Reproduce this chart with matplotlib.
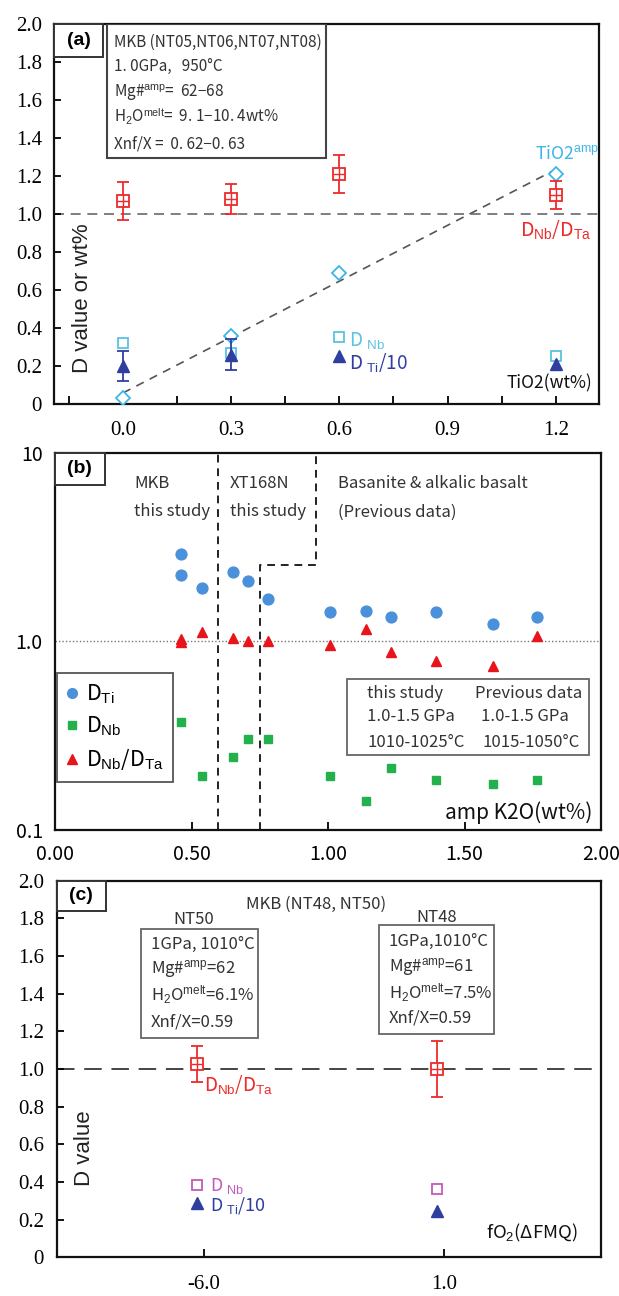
import numpy as np
import matplotlib
matplotlib.use('Agg')
import matplotlib.pyplot as plt
from matplotlib import font_manager
from matplotlib.patches import Rectangle
from matplotlib.lines import Line2D
from matplotlib.ticker import MultipleLocator, FixedLocator, NullLocator

# ---------------- data: panel (a) ----------------
a_x = [0.0, 0.3, 0.6, 1.2]
a_nbta = [1.07, 1.08, 1.21, 1.10]
a_nbta_err = [0.10, 0.08, 0.10, 0.075]
a_tio2 = [0.03, 0.36, 0.69, 1.21]
a_dnb = [0.32, 0.27, 0.35, 0.25]
a_dti10 = [0.20, 0.26, 0.25, 0.21]
a_dti10_err = [0.08, 0.08, 0.0, 0.0]
a_xticks = [0.0, 0.3, 0.6, 0.9, 1.2]
a_xticklabels = ['0.0', '0.3', '0.6', '0.9', '1.2']
a_yticks = [0.0, 0.2, 0.4, 0.6, 0.8, 1.0, 1.2, 1.4, 1.6, 1.8, 2.0]
a_yticklabels = ['0', '0.2', '0.4', '0.6', '0.8', '1.0', '1.2', '1.4', '1.6', '1.8', '2.0']

# ---------------- data: panel (b) ----------------
b_ti_x = [0.461, 0.461, 0.539, 0.650, 0.708, 0.780, 1.008, 1.139, 1.229, 1.397, 1.606, 1.767]
b_ti = [2.91, 2.26, 1.92, 2.33, 2.08, 1.685, 1.44, 1.455, 1.35, 1.44, 1.24, 1.35]
b_nbta_x = [0.461, 0.461, 0.539, 0.650, 0.708, 0.780, 1.008, 1.139, 1.229, 1.397, 1.606, 1.767]
b_nbta = [1.03, 0.99, 1.116, 1.04, 1.01, 1.01, 0.96, 1.17, 0.878, 0.79, 0.743, 1.063]
b_nb_x = [0.461, 0.539, 0.650, 0.708, 0.780, 1.008, 1.139, 1.229, 1.397, 1.606, 1.767]
b_nb = [0.376, 0.194, 0.245, 0.305, 0.305, 0.194, 0.143, 0.214, 0.184, 0.175, 0.184]
b_xticks = [0.0, 0.5, 1.0, 1.5, 2.0]
b_xticklabels = ['0.00', '0.50', '1.00', '1.50', '2.00']
b_yticks = [0.1, 1.0, 10.0]
b_yticklabels = ['0.1', '1.0', '10']

# ---------------- data: panel (c) ----------------
c_x = [-6.2, 0.8]
c_nbta = [1.025, 1.00]
c_nbta_err = [0.097, 0.15]
c_dnb = [0.383, 0.364]
c_dti10 = [0.29, 0.243]
c_xticks = [-6.0, 1.0]
c_xticklabels = ['-6.0', '1.0']
c_yticks = a_yticks
c_yticklabels = a_yticklabels

# ---------------- fonts ----------------
_names = {f.name for f in font_manager.fontManager.ttflist}
if 'Liberation Sans Narrow' in _names:
    NARROW = ['Liberation Sans Narrow', 'DejaVu Sans']
    NMATH = 'Liberation Sans Narrow'
    K = 1.0
else:
    NARROW = ['Noto Sans CJK SC', 'DejaVu Sans']
    NMATH = 'Liberation Sans'
    K = 0.86

plt.rcParams['mathtext.fontset'] = 'custom'
plt.rcParams['mathtext.rm'] = NMATH
plt.rcParams['mathtext.it'] = NMATH + ':italic'
plt.rcParams['mathtext.bf'] = NMATH + ':bold'
plt.rcParams['mathtext.sf'] = NMATH

SERIF = ['Liberation Serif', 'DejaVu Serif']
SANS = ['Noto Sans CJK SC', 'DejaVu Sans']
ARIAL = ['Liberation Sans', 'DejaVu Sans']

RED = '#EE2A2A'
C_TIO2 = '#3DB5EA'
C_DNB = '#5CC3E0'
C_DBLUE = '#2F3F9F'
B_BLUE = '#4A90DA'
B_GREEN = '#22B14C'
B_RED = '#E8131B'
C_MAG = '#C45AB8'
BOXC = '#444444'
TXT = '#333333'

fig = plt.figure(figsize=(6.19, 12.96), dpi=100)
ax_a = fig.add_axes([0.0880, 0.6883, 0.8796, 0.2932])
ax_b = fig.add_axes([0.0893, 0.3596, 0.8816, 0.2909])
ax_c = fig.add_axes([0.0913, 0.0299, 0.8796, 0.2906])

for ax in (ax_a, ax_b, ax_c):
    for s in ax.spines.values():
        s.set_linewidth(1.6)
        s.set_color('#111111')


def tag_box(ax, label, w, h):
    ax.add_patch(Rectangle((0, 1 - h), w, h, transform=ax.transAxes, fill=True,
                           facecolor='white', edgecolor='#333333', lw=1.4, zorder=5,
                           clip_on=False))
    ax.text(w / 2, 1 - h / 2, label, transform=ax.transAxes, ha='center', va='center',
            fontsize=14, fontweight='bold', family=ARIAL, zorder=6)


def red_square(ax, x, y, err, ms):
    ax.errorbar(x, y, yerr=err, fmt='none', ecolor=RED, elinewidth=1.3, capsize=4,
                capthick=1.3, zorder=3)
    ax.plot(x, y, ls='none', marker='s', ms=ms, mfc='white', mec=RED, mew=1.3, zorder=4)
    ax.plot(x, y, ls='none', marker='+', ms=ms, mec=RED, mew=1.0, zorder=4)


def ntext(ax, x, y, s, size, **kw):
    kw.setdefault('ha', 'left')
    kw.setdefault('va', 'center')
    kw.setdefault('color', TXT)
    return ax.text(x, y, s, transform=ax.transAxes, fontsize=size * K, family=NARROW, **kw)


# ================= panel (a) =================
ax = ax_a
ax.set_xlim(-0.19, 1.32)
ax.set_ylim(0, 2.0)
ax.axhline(1.0, color='#6a6a6a', ls=(0, (6, 4)), lw=1.2, zorder=1)
coef = np.polyfit(a_x, a_tio2, 1)
xl = np.array([min(a_x), max(a_x)])
ax.plot(xl, np.polyval(coef, xl), color='#555555', ls=(0, (5, 4)), lw=1.2, zorder=1)
ax.plot(a_x, a_tio2, ls='none', marker='D', ms=7, mfc='white', mec=C_TIO2, mew=1.3, zorder=3)
ax.plot(a_x, a_dnb, ls='none', marker='s', ms=7, mfc='white', mec=C_DNB, mew=1.3, zorder=3)
ex = [x for x, e in zip(a_x, a_dti10_err) if e > 0]
ey = [y for y, e in zip(a_dti10, a_dti10_err) if e > 0]
ee = [e for e in a_dti10_err if e > 0]
ax.errorbar(ex, ey, yerr=ee, fmt='none', ecolor=C_DBLUE, elinewidth=1.3, capsize=4,
            capthick=1.3, zorder=3)
ax.plot(a_x, a_dti10, ls='none', marker='^', ms=8, color=C_DBLUE, zorder=4)
red_square(ax, a_x, a_nbta, a_nbta_err, 8)

ax.set_xticks(a_xticks)
ax.set_xticklabels(a_xticklabels, family=SERIF, fontsize=15)
ax.xaxis.set_minor_locator(MultipleLocator(0.15))
ax.set_yticks(a_yticks)
ax.set_yticklabels(a_yticklabels, family=SERIF, fontsize=15)
ax.tick_params(axis='both', which='both', direction='in', width=1.3)
ax.tick_params(axis='x', which='both', length=6, pad=12)
ax.tick_params(axis='y', length=5, pad=9)

tag_box(ax, '(a)', 0.0898, 0.087)
ax.add_patch(Rectangle((0.0964, 0.647), 0.4022, 0.353, transform=ax.transAxes,
                       facecolor='white', edgecolor=BOXC, lw=1.5, zorder=5))
a_lines = ['MKB (NT05,NT06,NT07,NT08)', '1. 0GPa,   950\u00b0C',
           'Mg#$^{\\rm amp}$=  62\u221268', 'H$_2$O$^{\\rm melt}$=  9. 1\u221210. 4wt%',
           'Xnf/X =  0. 62\u22120. 63']
for t, fy in zip(a_lines, [0.951, 0.888, 0.822, 0.755, 0.684]):
    ntext(ax, 0.110, fy, t, 12.8, zorder=6)

ax.text(0.052, 0.279, 'D value or wt%', transform=ax.transAxes, rotation=90,
        ha='center', va='center', fontsize=16, family=ARIAL, color='#222222')
ntext(ax, 0.8825, 0.658, 'TiO2$^{\\rm amp}$', 14.8, color=C_TIO2)
ntext(ax, 0.855, 0.458, 'D$_{\\rm Nb}$/D$_{\\rm Ta}$', 16.5, color=RED)
ntext(ax, 0.541, 0.168, 'D $_{\\rm Nb}$', 16, color=C_DNB)
ntext(ax, 0.541, 0.108, 'D $_{\\rm Ti}$/10', 16, color=C_DBLUE)
ntext(ax, 0.830, 0.055, 'TiO2(wt%)', 14.5, color='#111111')

# ================= panel (b) =================
ax = ax_b
ax.set_yscale('log')
ax.set_xlim(0, 2.0)
ax.set_ylim(0.1, 10)
ax.axhline(1.0, color='#777777', ls=(0, (1, 1.5)), lw=1.0, zorder=1)
ax.plot([0.595, 0.595], [0.1, 10], color='#222222', ls=(0, (4, 3)), lw=1.4, zorder=1)
ax.plot([0.749, 0.749, 0.956, 0.956], [0.1, 2.54, 2.54, 10], color='#222222',
        ls=(0, (4, 3)), lw=1.4, zorder=1)
ax.plot(b_ti_x, b_ti, ls='none', marker='o', ms=7.8, color=B_BLUE, zorder=3)
ax.plot(b_nb_x, b_nb, ls='none', marker='s', ms=6, color=B_GREEN, zorder=3)
ax.plot(b_nbta_x, b_nbta, ls='none', marker='^', ms=7.5, color=B_RED, zorder=3)

ax.yaxis.set_major_locator(FixedLocator(b_yticks))
ax.yaxis.set_minor_locator(NullLocator())
ax.set_yticklabels(b_yticklabels, family=SANS, fontsize=14)
ax.set_xticks(b_xticks)
ax.set_xticklabels(b_xticklabels, family=SANS, fontsize=14)
ax.tick_params(axis='both', which='both', direction='in', width=1.3)
ax.tick_params(axis='x', length=6, pad=10)
ax.tick_params(axis='y', length=0, pad=9)

tag_box(ax, '(b)', 0.0903, 0.085)
for t, fx in [('MKB', 0.1444), ('XT168N', 0.3201), ('Basanite & alkalic basalt', 0.5181)]:
    ntext(ax, fx, 0.920, t, 14)
for t, fx in [('this study', 0.1444), ('this study', 0.3201), ('(Previous data)', 0.5181)]:
    ntext(ax, fx, 0.8435, t, 14)

handles = [Line2D([], [], ls='none', marker='o', ms=7, color=B_BLUE),
           Line2D([], [], ls='none', marker='s', ms=6, color=B_GREEN),
           Line2D([], [], ls='none', marker='^', ms=7, color=B_RED)]
labels = ['D$_{\\rm Ti}$', 'D$_{\\rm Nb}$', 'D$_{\\rm Nb}$/D$_{\\rm Ta}$']
leg = ax.legend(handles, labels, loc='upper left', bbox_to_anchor=(0.003, 0.4164),
                frameon=True, fancybox=False, edgecolor='#555555', framealpha=1,
                prop={'family': NARROW, 'size': 18 * K}, handlelength=0.5,
                handletextpad=0.4, borderpad=0.45, labelspacing=0.42, borderaxespad=0)
leg.get_frame().set_linewidth(1.3)

ax.add_patch(Rectangle((0.5346, 0.1989), 0.4434, 0.2016, transform=ax.transAxes,
                       facecolor='white', edgecolor='#666666', lw=1.3, zorder=5))
b_info = [('this study', 0.5713, 0.3607), ('Previous data', 0.7692, 0.3607),
          ('1.0-1.5 GPa', 0.5713, 0.2997), ('1.0-1.5 GPa', 0.7800, 0.2997),
          ('1010-1025\u00b0C', 0.5713, 0.2308), ('1015-1050\u00b0C', 0.7830, 0.2308)]
for t, fx, fy in b_info:
    ntext(ax, fx, fy, t, 14, zorder=6)
ntext(ax, 0.9834, 0.045, 'amp K2O(wt%)', 17.5, ha='right', color='#111111')

# ================= panel (c) =================
ax = ax_c
ax.set_xlim(-10.3, 5.58)
ax.set_ylim(0, 2.0)
ax.axhline(1.0, color='#444444', ls=(0, (9, 5)), lw=1.4, zorder=1)
red_square(ax, c_x, c_nbta, c_nbta_err, 8)
ax.plot(c_x, c_dnb, ls='none', marker='s', ms=7, mfc='white', mec=C_MAG, mew=1.3, zorder=3)
ax.plot(c_x, c_dti10, ls='none', marker='^', ms=8, color=C_DBLUE, zorder=3)

ax.set_xticks(c_xticks)
ax.set_xticklabels(c_xticklabels, family=SERIF, fontsize=15)
ax.set_yticks(c_yticks)
ax.set_yticklabels(c_yticklabels, family=SERIF, fontsize=15)
ax.tick_params(axis='both', which='both', direction='in', width=1.3)
ax.tick_params(axis='x', length=6, pad=13)
ax.tick_params(axis='y', length=5, pad=9)

tag_box(ax, '(c)', 0.0905, 0.0805)
ntext(ax, 0.4766, 0.9373, 'MKB (NT48, NT50)', 14, ha='center')
ntext(ax, 0.2525, 0.8957, 'NT50', 14, ha='center')
ntext(ax, 0.6988, 0.9018, 'NT48', 14, ha='center')
ax.add_patch(Rectangle((0.1552, 0.5826), 0.2149, 0.2892, transform=ax.transAxes,
                       facecolor='white', edgecolor='#666666', lw=1.3, zorder=5))
ax.add_patch(Rectangle((0.5923, 0.5929), 0.2103, 0.2895, transform=ax.transAxes,
                       facecolor='white', edgecolor='#666666', lw=1.3, zorder=5))
nt50 = ['1GPa, 1010\u00b0C', 'Mg#$^{\\rm amp}$=62', 'H$_2$O$^{\\rm melt}$=6.1%', 'Xnf/X=0.59']
nt48 = ['1GPa,1010\u00b0C', 'Mg#$^{\\rm amp}$=61', 'H$_2$O$^{\\rm melt}$=7.5%', 'Xnf/X=0.59']
for t, fy in zip(nt50, [0.8293, 0.7655, 0.6965, 0.6256]):
    ntext(ax, 0.1736, fy, t, 14, zorder=6)
for t, fy in zip(nt48, [0.838, 0.7716, 0.7018, 0.6354]):
    ntext(ax, 0.6106, fy, t, 14, zorder=6)

ntext(ax, 0.2709, 0.4576, 'D$_{\\rm Nb}$/D$_{\\rm Ta}$', 16, color=RED)
ntext(ax, 0.282, 0.190, 'D $_{\\rm Nb}$', 15, color=C_MAG)
ntext(ax, 0.282, 0.138, 'D $_{\\rm Ti}$/10', 15, color=C_DBLUE)
ntext(ax, 0.788, 0.0645, 'fO$_2$(\u0394FMQ)', 15.5, color='#111111')
ax.text(0.0523, 0.2903, 'D value', transform=ax.transAxes, rotation=90, ha='center',
        va='center', fontsize=16, family=ARIAL, color='#222222')

fig.savefig('out.png', dpi=100)
